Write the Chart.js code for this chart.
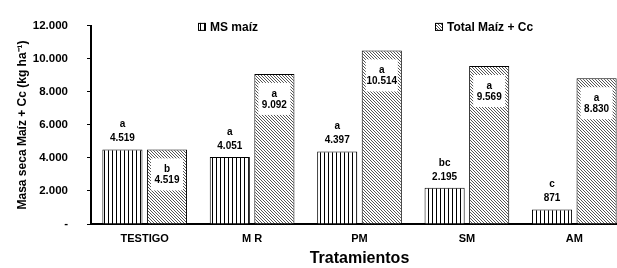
<!DOCTYPE html>
<html>
<head>
<meta charset="utf-8">
<script src="https://cdn.jsdelivr.net/npm/chart.js@4"></script>
<style>
  html, body { margin: 0; padding: 0; background: #fff; overflow: hidden; }
  #wrap { width: 617px; height: 268px; overflow: hidden; }
</style>
</head>
<body>
<div id="wrap"><canvas id="myChart" width="628" height="268"></canvas></div>
<script>
const categories = ["TESTIGO", "M R", "PM", "SM", "AM"];
const msMaiz = [4519, 4051, 4397, 2195, 871];
const totalMaizCc = [4519, 9092, 10514, 9569, 8830];
const msLetters = ["a", "a", "a", "bc", "c"];
const totalLetters = ["b", "a", "a", "a", "a"];
const yTicks = [0, 2000, 4000, 6000, 8000, 10000, 12000];

const FONT = "'Liberation Sans', Arial, sans-serif";

// dot as thousands separator, "-" for zero
function fmt(v) {
  if (v === 0) return "-";
  return String(v).replace(/\B(?=(\d{3})+(?!\d))/g, ".");
}

function verticalPattern() {
  const c = document.createElement("canvas");
  c.width = 4;
  c.height = 4;
  const x = c.getContext("2d");
  x.fillStyle = "#fff";
  x.fillRect(0, 0, 4, 4);
  x.fillStyle = "#000";
  x.fillRect(0, 0, 1, 4);
  return x.createPattern(c, "repeat");
}

function hatchPattern() {
  const c = document.createElement("canvas");
  c.width = 3;
  c.height = 3;
  const x = c.getContext("2d");
  x.fillStyle = "#fff";
  x.fillRect(0, 0, 3, 3);
  x.fillStyle = "#555";
  for (let i = 0; i < 3; i++) x.fillRect(i, i, 1, 1);
  return x.createPattern(c, "repeat");
}

const vPat = verticalPattern();
const hPat = hatchPattern();

const labelPlugin = {
  id: "barLabels",
  afterDatasetsDraw(chart) {
    const ctx = chart.ctx;
    ctx.save();
    ctx.font = "bold 10px " + FONT;
    ctx.textAlign = "center";
    ctx.textBaseline = "middle";
    ctx.fillStyle = "#000";

    const ms = chart.getDatasetMeta(0).data;
    ms.forEach((bar, i) => {
      ctx.fillText(msLetters[i], bar.x, bar.y - 25);
      ctx.fillText(fmt(msMaiz[i]), bar.x, bar.y - 11);
    });

    const tot = chart.getDatasetMeta(1).data;
    tot.forEach((bar, i) => {
      ctx.fillStyle = "#fff";
      ctx.fillRect(bar.x - 16, bar.y + 9, 32, 32);
      ctx.fillStyle = "#000";
      ctx.fillText(totalLetters[i], bar.x, bar.y + 20);
      ctx.fillText(fmt(totalMaizCc[i]), bar.x, bar.y + 31);
    });

    // legend
    const area = chart.chartArea;
    const items = [
      { text: "MS maíz", pat: vPat, x: 198 },
      { text: "Total Maíz + Cc", pat: hPat, x: 435 },
    ];
    ctx.font = "bold 12px " + FONT;
    ctx.textAlign = "left";
    items.forEach((it) => {
      const y = area.top + 1;
      ctx.fillStyle = it.pat;
      ctx.fillRect(it.x, y - 4, 8, 8);
      ctx.strokeStyle = "#000";
      ctx.lineWidth = 1;
      ctx.strokeRect(it.x + 0.5, y - 3.5, 7, 7);
      ctx.fillStyle = "#000";
      ctx.fillText(it.text, it.x + 12, y + 0.5);
    });
    ctx.restore();
  },
};

new Chart(document.getElementById("myChart"), {
  type: "bar",
  data: {
    labels: categories,
    datasets: [
      {
        label: "MS maíz",
        data: msMaiz,
        backgroundColor: vPat,
        borderColor: "#000",
        borderWidth: 1,
        categoryPercentage: 0.83,
        barPercentage: 0.9,
      },
      {
        label: "Total Maíz + Cc",
        data: totalMaizCc,
        backgroundColor: hPat,
        borderColor: "#000",
        borderWidth: 1,
        categoryPercentage: 0.83,
        barPercentage: 0.9,
      },
    ],
  },
  options: {
    responsive: false,
    animation: false,
    layout: { padding: { top: 13, right: 0, bottom: 0, left: 0 } },
    plugins: {
      legend: { display: false },
      tooltip: { enabled: false },
    },
    scales: {
      x: {
        afterFit(scale) {
          scale.height = 44;
        },
        grid: { display: false, drawTicks: false },
        border: { display: true, color: "#000", width: 2 },
        ticks: {
          color: "#000",
          font: { family: FONT, size: 11, weight: "bold" },
          padding: 8,
        },
        title: {
          display: true,
          text: "Tratamientos",
          color: "#000",
          font: { family: FONT, size: 16, weight: "bold" },
          padding: { top: 0, bottom: 0 },
        },
      },
      y: {
        min: 0,
        max: 12000,
        afterBuildTicks(scale) {
          scale.ticks = yTicks.map((v) => ({ value: v }));
        },
        afterFit(scale) {
          scale.width = 91;
        },
        grid: {
          drawOnChartArea: false,
          color: "#000",
          tickLength: 4,
        },
        border: { display: true, color: "#000", width: 2 },
        ticks: {
          color: "#000",
          font: { family: FONT, size: 11.5, weight: "bold" },
          padding: 19,
          callback: (v) => fmt(v),
        },
        title: {
          display: true,
          text: "Masa seca Maíz + Cc (kg ha⁻¹)",
          color: "#000",
          font: { family: FONT, size: 12, weight: "bold" },
          padding: { top: 15, bottom: 0 },
        },
      },
    },
  },
  plugins: [labelPlugin],
});
</script>
</body>
</html>
